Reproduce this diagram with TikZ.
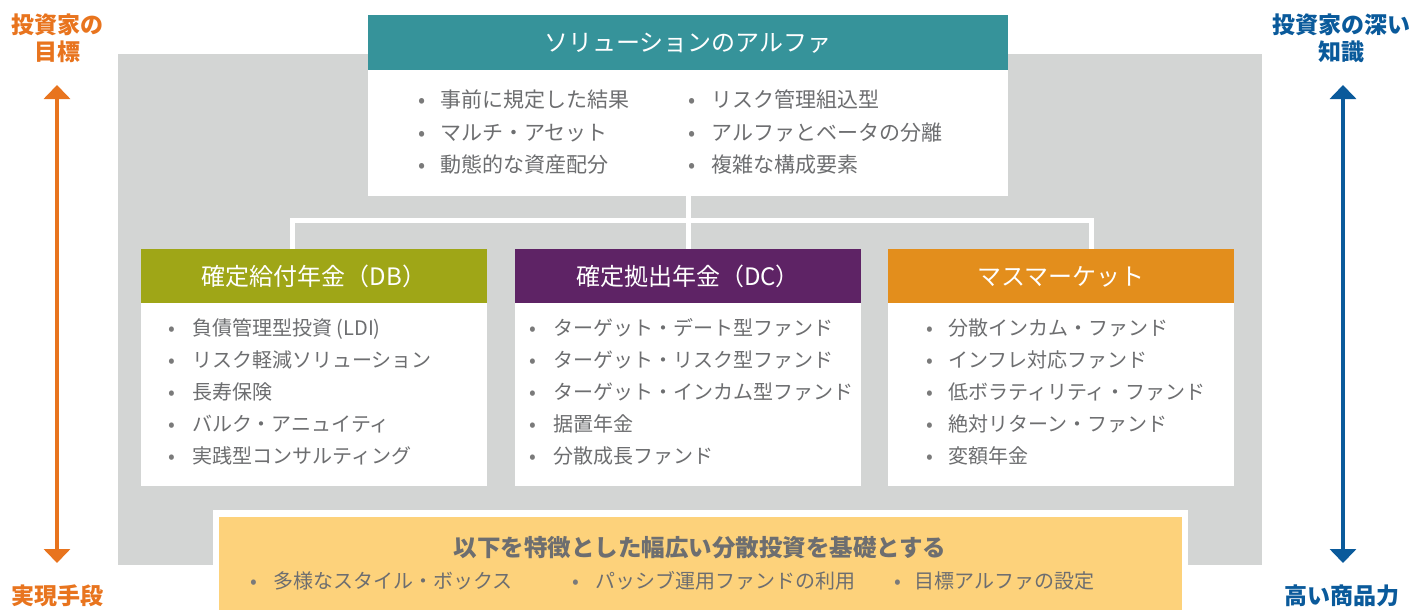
\documentclass[tikz,border=0pt]{standalone}
\usepackage{fontspec}
\setmainfont{Noto Sans CJK JP}
\usetikzlibrary{arrows.meta,calc}
\definecolor{panelgray}{HTML}{D3D5D4}
\definecolor{tealc}{HTML}{36939A}
\definecolor{olivec}{HTML}{9FA617}
\definecolor{purplec}{HTML}{5E2365}
\definecolor{orangeh}{HTML}{E38E1C}
\definecolor{yellowc}{HTML}{FDD27B}
\definecolor{textgray}{HTML}{6D6E70}
\definecolor{bulgray}{HTML}{7A7A7A}
\definecolor{orangel}{HTML}{E8741E}
\definecolor{bluel}{HTML}{0A5A9B}
\newcommand\bulx[1]{\makebox[0pt][c]{\textcolor{bulgray}{•}}\hspace{#1}}
\tikzset{
  box/.style={rectangle, inner sep=0pt, outer sep=0pt, anchor=north west, draw=none},
  txt/.style={inner sep=0pt, text height=0.88*#1, text depth=0.12*#1},
  hdr/.style={txt=24pt, text=white, font=\fontsize{24}{24}\selectfont},
  item/.style={txt=20pt, anchor=west, text=textgray, font=\fontsize{20}{20}\selectfont},
  titem/.style={txt=21pt, anchor=west, text=textgray, font=\fontsize{21}{21}\selectfont},
  side/.style={txt=23pt, font=\fontsize{23}{23}\selectfont\bfseries},
  conn/.style={draw=white, line width=5pt},
  axis/.style={line width=4.5pt, {Triangle[width=26pt,length=14pt]}-{Triangle[width=26pt,length=14pt]}}
}
\begin{document}
\begin{tikzpicture}[x=1pt,y=-1pt]
\useasboundingbox (0,0) rectangle (1424,610);
% gray panel
\node[box, fill=panelgray, minimum width=1144pt, minimum height=511pt] (panel) at (118,54) {};
% connectors
\coordinate (jL) at (292,220);
\coordinate (jR) at (1091,220);
% top box
\node[box, fill=tealc, minimum width=640pt, minimum height=55pt] (topH) at (368,15) {};
\node[box, fill=white, minimum width=640pt, minimum height=126pt] (topB) at (368,70) {};
% three columns
\node[box, fill=olivec, minimum width=346pt, minimum height=54pt] (dbH) at (141,249) {};
\node[box, fill=white, minimum width=346pt, minimum height=183pt] (dbB) at (141,303) {};
\node[box, fill=purplec, minimum width=346pt, minimum height=54pt] (dcH) at (515,249) {};
\node[box, fill=white, minimum width=346pt, minimum height=183pt] (dcB) at (515,303) {};
\node[box, fill=orangeh, minimum width=346pt, minimum height=54pt] (mmH) at (888,249) {};
\node[box, fill=white, minimum width=346pt, minimum height=183pt] (mmB) at (888,303) {};
\draw[conn] (topB.south) -- (dcH.north);
\draw[conn] (dbH.north -| jL) |- (jR) -- (mmH.north -| jR);
% header titles
\node[hdr] (topT) at (topH.center) {ソリューションのアルファ};
\node[hdr] (dbT) at (dbH.center) {確定給付年金（DB）};
\node[hdr] (dcT) at (dcH.center) {確定拠出年金（DC）};
\node[hdr] (mmT) at (mmH.center) {マスマーケット};
% top lists
\foreach \t [count=\i from 0] in {事前に規定した結果, マルチ・アセット, 動態的な資産配分}
  \node[titem] (tl\i) at (422,{100+32.5*\i}) {\bulx{18pt}\t};
\foreach \t [count=\i from 0] in {リスク管理組込型, アルファとベータの分離, 複雑な構成要素}
  \node[titem] (tr\i) at (692,{100+32.5*\i}) {\bulx{19pt}\t};
% column lists
\foreach \t [count=\i from 0] in {{負債管理型投資 (LDI)}, リスク軽減ソリューション, 長寿保険, バルク・アニュイティ, 実践型コンサルティング}
  \node[item] (db\i) at (172,{328+32*\i}) {\bulx{20pt}\t};
\foreach \t [count=\i from 0] in {ターゲット・デート型ファンド, ターゲット・リスク型ファンド, ターゲット・インカム型ファンド, 据置年金, 分散成長ファンド}
  \node[item] (dc\i) at (533,{328+32*\i}) {\bulx{20pt}\t};
\foreach \t [count=\i from 0] in {分散インカム・ファンド, インフレ対応ファンド, 低ボラティリティ・ファンド, 絶対リターン・ファンド, 変額年金}
  \node[item] (mm\i) at (930,{328+32*\i}) {\bulx{18pt}\t};
% bottom yellow box
\node[box, fill=white, minimum width=975pt, minimum height=100pt] (yframe) at (213,510) {};
\node[box, fill=yellowc, minimum width=963pt, minimum height=93pt] (ybox) at (219,517) {};
\node[txt=23.5pt, text=textgray, font=\fontsize{23.5}{23.5}\selectfont\bfseries] (ytitle) at (700,548) {以下を特徴とした幅広い分散投資を基礎とする};
\node[item] (yb1) at (254,581) {\bulx{19pt}多様なスタイル・ボックス};
\node[item] (yb2) at (576,581) {\bulx{19pt}パッシブ運用ファンドの利用};
\node[item] (yb3) at (898,581) {\bulx{16pt}目標アルファの設定};
% side axes
\coordinate (oT) at (57,85);
\coordinate (oB) at (57,563);
\draw[axis, draw=orangel, fill=orangel] (oT) -- (oB);
\coordinate (bT) at (1343,85);
\coordinate (bB) at (1343,563);
\draw[axis, draw=bluel, fill=bluel] (bT) -- (bB);
\node[side, text=orangel] (lt1) at (57,25) {投資家の};
\node[side, text=orangel] (lt2) at (57,52) {目標};
\node[side, text=orangel] (lb) at (57,596) {実現手段};
\node[side, text=bluel] (rt1) at (1341,25) {投資家の深い};
\node[side, text=bluel] (rt2) at (1341,52) {知識};
\node[side, text=bluel] (rb) at (1342,596) {高い商品力};
\end{tikzpicture}
\end{document}
